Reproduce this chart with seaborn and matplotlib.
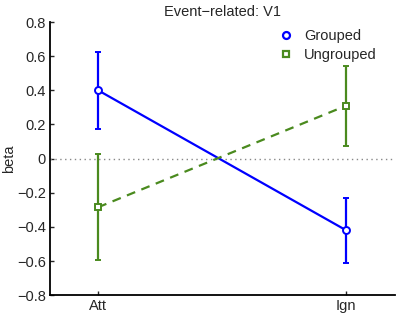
import numpy as np
import pandas as pd
import matplotlib
matplotlib.use("Agg")
import matplotlib.pyplot as plt
import seaborn as sns
from matplotlib.lines import Line2D

# Data
conditions = ["Att", "Ign"]
grouped_mean = [0.40, -0.42]
grouped_err = [0.225, 0.19]
ungrouped_mean = [-0.285, 0.31]
ungrouped_err = [0.31, 0.235]
yticks = [-0.8, -0.6, -0.4, -0.2, 0, 0.2, 0.4, 0.6, 0.8]
ytick_labels = ["\u22120.8", "\u22120.6", "\u22120.4", "\u22120.2", "0",
                "0.2", "0.4", "0.6", "0.8"]

sns.set_style("white")
plt.rcParams["font.family"] = ["Liberation Sans", "DejaVu Sans"]

blue = "#0000ff"
green = "#4a8a1e"
fs = 10.5

df = pd.DataFrame({
    "x": [1, 2, 1, 2],
    "beta": grouped_mean + ungrouped_mean,
    "group": ["Grouped"] * 2 + ["Ungrouped"] * 2,
})

fig, ax = plt.subplots(figsize=(3.97, 3.15), dpi=100)
fig.subplots_adjust(left=0.126, right=0.995, bottom=0.063, top=0.93)

ax.axhline(0, color="#888888", linestyle=(0, (1, 2.5)), linewidth=1, zorder=1)

sns.lineplot(data=df[df.group == "Grouped"], x="x", y="beta", color=blue,
             linewidth=1.6, ax=ax, legend=False)
sns.lineplot(data=df[df.group == "Ungrouped"], x="x", y="beta", color=green,
             linewidth=1.6, linestyle=(0, (4, 3)), ax=ax, legend=False)

ax.errorbar([1, 2], grouped_mean, yerr=grouped_err, fmt="o", color=blue,
            mfc="white", mec=blue, ms=5, mew=1.4, capsize=2.5, elinewidth=1.6,
            capthick=1.4, zorder=3)
ax.errorbar([1, 2], ungrouped_mean, yerr=ungrouped_err, fmt="s", color=green,
            mfc="white", mec=green, ms=4.5, mew=1.4, capsize=2.5, elinewidth=1.6,
            capthick=1.4, zorder=3)

ax.set_xlim(0.806, 2.197)
ax.set_ylim(-0.8, 0.8)
ax.set_xticks([1, 2])
ax.set_xticklabels(conditions)
ax.set_yticks(yticks)
ax.set_yticklabels(ytick_labels)
ax.set_xlabel("")
ax.set_ylabel("beta", fontsize=fs, labelpad=1)
ax.set_title("Event\u2212related: V1", fontsize=fs, pad=4)
ax.tick_params(axis="both", direction="in", length=3, width=1, labelsize=fs, pad=3,
               left=True, bottom=True)

sns.despine(ax=ax)
for s in ["left", "bottom"]:
    ax.spines[s].set_linewidth(1.3)
    ax.spines[s].set_color("black")

handles = [
    Line2D([], [], linestyle="none", marker="o", mfc="white", mec=blue, ms=5, mew=1.6),
    Line2D([], [], linestyle="none", marker="s", mfc="white", mec=green, ms=4.5, mew=1.6),
]
ax.legend(handles, ["Grouped", "Ungrouped"], loc="upper right", frameon=False,
          fontsize=fs, handletextpad=0.5, labelspacing=0.32, handlelength=1.5,
          borderaxespad=0, bbox_to_anchor=(0.964, 0.995))

fig.savefig("out.png", dpi=100)
